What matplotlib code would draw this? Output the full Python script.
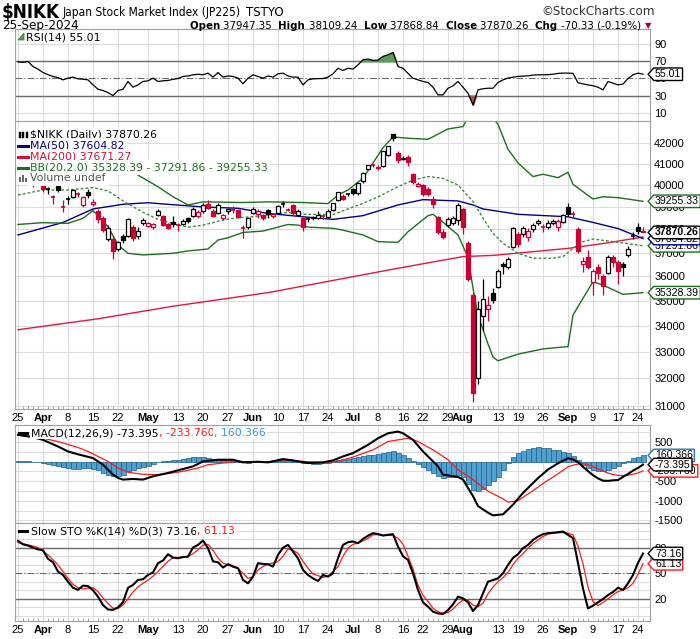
import numpy as np
import pandas as pd
import matplotlib
matplotlib.use("Agg")
import matplotlib.pyplot as plt
import matplotlib.font_manager as fm
from matplotlib.patches import Rectangle, Polygon
from matplotlib.lines import Line2D
from matplotlib.path import Path
from matplotlib.transforms import blended_transform_factory

# ---------------- data ----------------
holidays = ["2024-04-29", "2024-05-03", "2024-05-06", "2024-07-15",
            "2024-08-12", "2024-09-16", "2024-09-23"]
dates = [d for d in pd.bdate_range("2024-03-25", "2024-09-25")
         if d.strftime("%Y-%m-%d") not in holidays]

prev_close0 = 40888.17
opens = [40800, 40350, 40500, 40150, 40400, 40080, 39850, 39460, 39950, 39000,
         39300, 39450, 39600, 39100, 39700, 39150, 38800, 38500, 37600, 37600,
         37150, 37700, 37700, 38100, 37700, 38300, 38150, 38100, 38650, 38600,
         38250, 38350, 38180, 38250, 38490, 38600, 38600, 38800, 39150, 38800,
         38750, 38500, 38800, 38850, 38850, 38080, 38100, 38750, 38700, 38650,
         38850, 38600, 38750, 39100, 38850, 39100, 38650, 38500, 38450, 38500,
         38500, 38580, 38550, 38850, 39300, 39500, 39600, 39800, 39650, 40200,
         40750, 40920, 40850, 40900, 41400, 42400, 41500, 41200, 41300, 40500,
         39950, 40000, 39800, 39350, 38550, 37900, 38200, 38300, 38400, 38900,
         37400, 35250, 32000, 34400, 34650, 35300, 35540, 36505, 36380, 37250,
         37800, 37800, 37650, 38000, 38280, 38120, 38100, 38280, 38100, 38350,
         39000, 38700, 38000, 36500, 36800, 35780, 36400, 36000, 36150, 36800,
         36600, 36500, 36900, 37700, 38100, 37947.35]
highs = [40837, 40500, 40980, 40300, 40500, 40150, 39900, 39520, 40030, 39300,
         39500, 39800, 39700, 39500, 39800, 39350, 38900, 38600, 38200, 37700,
         37500, 37800, 38500, 38200, 38100, 38500, 38350, 38300, 38900, 38650,
         38300, 38600, 38300, 38450, 38550, 39000, 38850, 39200, 39300, 38900,
         39200, 38700, 38950, 39050, 38900, 38200, 38550, 39000, 38900, 38700,
         38900, 38750, 39100, 39250, 38950, 39150, 38900, 38550, 38550, 38600,
         38800, 38650, 38900, 39200, 39700, 39600, 39650, 39850, 40100, 40600,
         40950, 40980, 40950, 41600, 41850, 42426, 41600, 41350, 41400, 40550,
         40150, 40050, 39900, 39500, 38600, 38000, 38550, 38600, 39200, 38950,
         37500, 35300, 35000, 35880, 35200, 35500, 36300, 36600, 36800, 38100,
         37900, 38150, 38050, 38300, 38450, 38250, 38400, 38450, 38450, 38700,
         39200, 38800, 38100, 36800, 37100, 36300, 36500, 36100, 36900, 36900,
         36700, 36600, 37300, 37900, 38300, 38109.24]
lows = [40367, 40100, 40400, 39900, 40150, 39700, 39600, 39150, 39700, 38774,
        39150, 39400, 39450, 39000, 39400, 39050, 38300, 37900, 37500, 36733,
        37050, 37400, 37650, 37500, 37600, 38200, 38100, 38000, 38600, 38150,
        38000, 38100, 37950, 38200, 38300, 38550, 38500, 38750, 38900, 38550,
        38700, 38400, 38700, 38750, 38500, 37617, 38000, 38700, 38500, 38400,
        38500, 38500, 38700, 39000, 38800, 38650, 38600, 37950, 38350, 38400,
        38450, 38450, 38500, 38800, 39250, 39300, 39500, 39550, 39550, 40100,
        40700, 40850, 40700, 40850, 41350, 42100, 41050, 41150, 40900, 40050,
        39900, 39500, 39500, 38950, 37800, 37600, 38100, 38200, 38200, 37800,
        35800, 31156, 31800, 33800, 34200, 34900, 35500, 36100, 36300, 37200,
        37250, 37650, 37500, 37900, 38200, 37900, 38000, 38200, 37950, 38300,
        38600, 38500, 37000, 36200, 36300, 35250, 35900, 35250, 36100, 36400,
        35700, 36000, 36800, 37600, 37800, 37868.84]
closes = [40414, 40398, 40762, 40168, 40369, 39803, 39838, 39451, 39773, 38992,
          39347, 39773, 39581, 39442, 39523, 39232, 38471, 37961, 38079, 37068,
          37438, 37552, 38460, 37628, 37934, 38405, 38274, 38236, 38835, 38202,
          38073, 38229, 38179, 38356, 38385, 38920, 38787, 39069, 38946, 38617,
          39103, 38646, 38900, 38855, 38556, 38054, 38487, 38923, 38837, 38490,
          38703, 38683, 39038, 39134, 38876, 38720, 38814, 38102, 38482, 38570,
          38633, 38596, 38804, 39173, 39667, 39341, 39583, 39631, 40074, 40580,
          40913, 40912, 40780, 41580, 41832, 42224, 41191, 41275, 41098, 40126,
          40063, 39599, 39594, 39155, 37870, 37667, 38469, 38526, 39102, 38126,
          35910, 31458, 34675, 35090, 34831, 35025, 36233, 36442, 36726, 38063,
          37389, 38062, 37951, 38211, 38364, 38110, 38288, 38371, 38362, 38648,
          38700, 38686, 37047, 36657, 36391, 36216, 36159, 35620, 36833, 36582,
          36203, 36380, 37155, 37724, 37940, 37870.26]

# moving averages / bands sampled from the chart (trading-day index, value)
ma50_days = [0, 9, 15, 21, 26, 31, 37, 44, 50, 57, 63, 69, 76, 81, 88, 91, 93, 100, 110, 115, 120, 125]
ma50_vals = [37760, 38310, 38910, 39120, 39190, 39100, 39000, 38940, 38710, 38560, 38445,
             38610, 39090, 39330, 39270, 39090, 38910, 38670, 38560, 38310, 38040, 37604.82]
ma200_days = [0, 16, 31, 50, 63, 75, 89, 95, 110, 118, 125]
ma200_vals = [33850, 34280, 34780, 35330, 35830, 36300, 36830, 36880, 37180, 37420, 37671.27]
bbu_days = [0, 5, 10, 15, 18, 24, 28, 31, 34, 37, 45, 50, 57, 62, 64, 66, 69, 71, 73, 75, 78,
            82, 86, 89, 91, 93, 96, 98, 100, 103, 105, 108, 110, 111, 115, 117, 120, 125]
bbu_vals = [40860, 41240, 41270, 40920, 41300, 40460, 39920, 39460, 39090, 39230, 39200,
            39230, 39200, 39150, 39540, 39770, 40310, 41030, 41760, 42280, 42215, 42165,
            42670, 42790, 43700, 43800, 42900, 41680, 41030, 40390, 40500, 40340, 40590,
            40030, 39360, 39460, 39420, 39255.33]
bbm_days = [0, 5, 10, 15, 18, 21, 25, 28, 31, 34, 37, 41, 44, 47, 50, 54, 57, 63, 66, 69, 72,
            76, 79, 82, 85, 88, 91, 93, 95, 97, 100, 103, 107, 109, 111, 113, 115, 120, 125]
bbm_vals = [39540, 39770, 39770, 39880, 39730, 39270, 38760, 38450, 38250, 38100, 38190,
            38415, 38520, 38565, 38640, 38760, 38670, 38660, 38910, 39160, 39460, 39920,
            40230, 40390, 40310, 40000, 39240, 38500, 37830, 37400, 36970, 36760, 36760,
            36830, 37180, 37470, 37585, 37440, 37291.86]
bbl_days = [0, 5, 10, 13, 15, 18, 20, 22, 25, 31, 34, 38, 40, 42, 45, 49, 54, 56, 58, 63, 65,
            69, 72, 76, 78, 82, 83, 85, 88, 90, 91, 92, 94, 95, 96, 100, 105, 110, 111, 113,
            115, 117, 121, 125]
bbl_vals = [38220, 38300, 38270, 38490, 38840, 38125, 37330, 36970, 36900, 36970, 37070,
            37155, 37540, 37640, 37870, 37930, 38220, 38190, 38105, 38050, 37970, 37760,
            37470, 37440, 37900, 38610, 38670, 38320, 37760, 36800, 35510, 34430, 33300,
            32800, 32660, 32910, 33110, 33200, 34430, 35100, 35780, 35640, 35260, 35328.39]

rsi = [69.5, 68.8, 70, 64, 61, 57, 54.5, 52.4, 51, 48.4,
       50.4, 51.6, 49.6, 49.2, 48.4, 42.5, 37.5, 35.9, 33.5, 30,
       35.9, 37.5, 46.5, 39.8, 42.5, 46.5, 47.3, 50.4, 46.5, 47.3,
       47.7, 49, 50, 52.4, 53, 54.3, 55, 54.3, 56.3, 51.6,
       57, 51.6, 53, 52.4, 50.4, 43.7, 50.4, 54.3, 52.4, 50.4,
       53, 51.6, 55.5, 56.3, 53, 51.6, 51.6, 42.5, 48.4, 49.6,
       49.8, 50, 51.6, 55.5, 62, 59.4, 62, 61, 66, 72,
       72.7, 71.2, 71.5, 75.9, 77.8, 80.6, 64, 62, 56, 50.4,
       48.4, 46.5, 45.3, 39.8, 30.8, 30.8, 38.6, 41.4, 46.5, 39.8,
       32.7, 19, 36.7, 38, 38.6, 38.6, 45.3, 48.4, 50.5, 51.6,
       52.4, 52.8, 53.1, 54, 54.3, 54.3, 54.5, 55, 56, 56.3,
       56.3, 56, 45, 43.7, 42.5, 41.5, 39.8, 36.7, 46.5, 44.5,
       42.5, 43.5, 50, 54.3, 56.3, 55.01]

macd_days = [0, 3, 5, 8, 10, 12, 15, 17, 19, 20, 21, 23, 25, 27, 30, 32, 35, 37, 40, 43, 45,
             48, 50, 53, 55, 58, 61, 63, 65, 67, 70, 72, 74, 76, 77, 79, 81, 84, 85, 88, 89,
             91, 92, 94, 95, 97, 99, 101, 104, 106, 108, 110, 111, 112, 113, 114, 115, 116,
             117, 118, 119, 120, 121, 122, 123, 124, 125]
macd_vals = [690, 630, 560, 390, 263, 190, 93, -76, -331, -416, -458, -441, -458, -373, -288,
             -220, -119, 8, 51, 51, -17, 0, -17, 68, 34, -34, -17, 34, 136, 220, 432, 602,
             729, 772, 729, 560, 263, -119, -331, -390, -458, -882, -1136, -1306, -1374,
             -1348, -1100, -800, -420, -200, -40, 90, 60, -10, -130, -241, -345, -426,
             -486, -490, -476, -469, -389, -315, -227, -160, -73.395]
sig_days = [0, 5, 8, 12, 14, 18, 20, 22, 25, 28, 30, 33, 36, 38, 41, 44, 47, 50, 54, 57, 61,
            64, 67, 71, 74, 78, 80, 83, 86, 88, 91, 94, 97, 98, 100, 103, 105, 108, 110, 111,
            112, 113, 114, 115, 116, 117, 118, 119, 120, 121, 122, 123, 124, 125]
sig_vals = [680, 602, 517, 365, 263, 8, -161, -271, -322, -331, -305, -246, -161, -76, -34,
            8, 0, 0, 25, 8, -17, 8, 119, 305, 517, 602, 517, 305, 51, -204, -458, -755,
            -950, -1035, -1000, -740, -560, -310, -130, -90, -60, -50, -80, -125, -180, -240,
            -290, -326, -350, -355, -345, -320, -290, -233.76]
hist = [17, 25, 17, 0, -17, -34, -59, -85, -110, -136,
        -161, -178, -178, -170, -170, -178, -220, -280, -330, -373,
        -360, -330, -250, -220, -170, -136, -100, -50, -10, 10,
        25, 40, 50, 68, 85, 110, 119, 110, 93, 76,
        68, 51, 42, 25, 8, -17, -25, -17, -8, 0,
        8, 17, 34, 51, 42, 25, 8, -25, -42, -51,
        -51, -42, -25, 8, 42, 59, 76, 93, 110, 136,
        161, 178, 195, 220, 246, 263, 220, 170, 93, 17,
        -51, -136, -200, -280, -373, -415, -400, -390, -350, -400,
        -560, -712, -755, -690, -600, -500, -400, -220, -40, 120,
        220, 280, 322, 360, 365, 355, 340, 310, 288, 250,
        220, 150, 50, -80, -161, -220, -246, -246, -200, -150,
        -119, -34, 30, 93, 130, 160.366]

sto_k = [88, 84, 82.5, 80, 78, 77, 67, 63, 52, 48,
         40, 33, 30.5, 35.5, 35, 30, 22.5, 12.7, 7.5, 7,
         10, 16, 33, 36.3, 42.2, 43, 48, 51, 61.8, 65,
         72.4, 68.4, 67.6, 69, 69.6, 80.2, 83.3, 88.4, 79.4, 64,
         62.9, 56.7, 60.6, 57.8, 55.9, 42.2, 38.2, 46.1, 61.8, 61,
         60.6, 57.8, 71.6, 80, 83.3, 75.5, 67.6, 53.9, 48, 44,
         41, 48, 46.1, 50, 67.6, 83.3, 86.5, 87.3, 85.3, 90.4,
         94, 97.1, 95.9, 94.3, 95.1, 95.9, 81.4, 70, 65.7, 50,
         30.4, 15.9, 10.8, 5, 2.9, 2.2, 6.9, 13.5, 22.5, 20.6,
         15.9, 5.7, 12.7, 26.5, 40.2, 42, 44.1, 50, 59.8, 68,
         72.4, 79.4, 83.3, 89.2, 93, 95.9, 97.1, 97.5, 98.2, 99,
         95.1, 91.2, 62, 32, 8.8, 12, 15.9, 19.8, 24.5, 28,
         33.1, 30.4, 38.2, 48, 62.2, 73.16]
sto_d = [86, 84.5, 83.3, 82, 80, 76, 71.6, 66, 59.8, 52,
         44, 37, 33, 31.6, 32.5, 33, 28.4, 21, 14.7, 9,
         8.5, 12.7, 20, 28, 34, 38.2, 42, 46.5, 52, 58,
         64, 68.4, 68.6, 69, 69.6, 73, 77.5, 83, 84, 77,
         68, 61.8, 60, 59, 56, 50, 44, 46, 53.9, 58,
         60.6, 62, 63.7, 70, 78.5, 77, 73.5, 64, 56, 49,
         47.3, 45, 47, 52, 57.8, 70, 79.4, 84, 85.3, 88,
         91, 95, 95.5, 94.3, 94.5, 94.3, 91, 84, 70, 55,
         36, 24, 17, 9, 5, 3, 4, 8, 14, 18.6,
         18, 12.7, 10.8, 15, 26, 34, 40, 45, 51, 60,
         67.6, 73, 79.4, 85, 89.2, 93, 95.9, 97, 97.5, 97.8,
         97.1, 95, 82, 61, 34, 17, 12, 15.9, 20, 24.5,
         28.5, 30.4, 33, 38.2, 49, 61.13]

tick_dates = ["2024-03-25", "2024-04-01", "2024-04-08", "2024-04-15", "2024-04-22",
              "2024-05-01", "2024-05-13", "2024-05-20", "2024-05-27", "2024-06-03",
              "2024-06-10", "2024-06-17", "2024-06-24", "2024-07-01", "2024-07-08",
              "2024-07-16", "2024-07-22", "2024-07-29", "2024-08-01", "2024-08-13",
              "2024-08-19", "2024-08-26", "2024-09-02", "2024-09-09", "2024-09-17",
              "2024-09-24"]
tick_labels = ["25", "Apr", "8", "15", "22", "May", "13", "20", "27", "Jun", "10", "17",
               "24", "Jul", "8", "16", "22", "29", "Aug", "13", "19", "26", "Sep", "9",
               "17", "24"]
price_ticks = [31000, 32000, 33000, 34000, 35000, 36000, 37000, 38000, 39000, 40000,
               41000, 42000]

# ---------------- figure ----------------
W, H = 700, 639
fig = plt.figure(figsize=(7.0, 6.39), dpi=100)
fig.patch.set_facecolor("white")

RED = "#cc0033"
GRID = "#dcdcdc"
SPINE = "#a0a0a0"
GREEN = "#1e6e1e"
NAVY = "#000080"
MA2C = "#e0183c"
BLUE_T = "#3399cc"
TICKFONT = ["Liberation Sans", "DejaVu Sans"]
LEGFONT = ["DejaVu Sans"]

_fonts = fm.fontManager.ttflist
if any(f.name == "Liberation Sans Narrow" for f in _fonts):
    HEADF, HEADSTRETCH = ["Liberation Sans Narrow", "DejaVu Sans"], "normal"
elif any(f.name == "DejaVu Sans" and str(f.stretch) in ("condensed", "semi-condensed") for f in _fonts):
    HEADF, HEADSTRETCH = ["DejaVu Sans"], "condensed"
else:
    HEADF, HEADSTRETCH = ["Liberation Sans", "DejaVu Sans"], "normal"


def rect(x0, y0, x1, y1):
    return [x0 / W, 1 - y1 / H, (x1 - x0) / W, (y1 - y0) / H]


ax_rsi = fig.add_axes(rect(15, 29, 650, 121))
ax_main = fig.add_axes(rect(15, 121, 650, 409))
ax_macd = fig.add_axes(rect(15, 425, 650, 523))
ax_sto = fig.add_axes(rect(15, 523, 650, 621))
axes = [ax_rsi, ax_main, ax_macd, ax_sto]

n = len(dates)
x = np.arange(n)
date_str = [d.strftime("%Y-%m-%d") for d in dates]
tick_pos = [date_str.index(d) for d in tick_dates]

for ax in axes:
    ax.set_xlim(-0.6, n + 0.4)
    ax.set_xticks(tick_pos)
    ax.set_xticklabels([])
    ax.tick_params(axis="x", length=0)
    ax.yaxis.tick_right()
    ax.tick_params(axis="y", length=0, pad=3, labelsize=8)
    for sp in ax.spines.values():
        sp.set_color(SPINE)
        sp.set_linewidth(0.8)
    for p in tick_pos:
        ax.axvline(p, color=GRID, lw=0.8, zorder=0)

for ax in (ax_main, ax_sto):
    ax.set_xticklabels(tick_labels)
    ax.tick_params(axis="x", pad=3, labelsize=8)
    for lab, txt in zip(ax.get_xticklabels(), tick_labels):
        lab.set_family(TICKFONT)
        if txt.isalpha():
            lab.set_fontweight("bold")
    ax.set_xticks(x, minor=True)
    ax.tick_params(axis="x", which="minor", length=2, direction="in", color="#999999")

# ---------------- RSI ----------------
rsi_a = np.array(rsi)
ax_rsi.set_ylim(0.2, 108)
for v in (10, 90):
    ax_rsi.axhline(v, color=GRID, lw=0.8, zorder=0)
ax_rsi.axhline(70, color="#6a6a6a", lw=1.0, zorder=1)
ax_rsi.axhline(30, color="#6a6a6a", lw=1.0, zorder=1)
ax_rsi.axhline(50, color="#6a6a6a", lw=0.8, ls=(0, (6, 2, 1, 2)), zorder=1)
ax_rsi.fill_between(x, rsi_a, 70, where=rsi_a > 70, interpolate=True, color="#5e9a5e", zorder=2)
ax_rsi.fill_between(x, rsi_a, 30, where=rsi_a < 30, interpolate=True, color="#a55252", zorder=2)
ax_rsi.plot(x, rsi_a, color="black", lw=0.9, zorder=3)
ax_rsi.set_yticks([10, 30, 50, 70, 90])
ax_rsi.set_yticklabels(["10", "30", "50", "70", "90"])

# ---------------- main ----------------
ax_main.set_yscale("log")
ax_main.set_ylim(30893, 43064)
ax_main.set_yticks(price_ticks)
ax_main.set_yticklabels([str(v) for v in price_ticks])
ax_main.yaxis.set_minor_locator(matplotlib.ticker.NullLocator())
ax_main.tick_params(axis="y", which="both", length=0)
for v in price_ticks:
    ax_main.axhline(v, color=GRID, lw=0.8, zorder=0)

ax_main.plot(ma200_days, ma200_vals, color=MA2C, lw=1.0, zorder=2)
ax_main.plot(ma50_days, ma50_vals, color=NAVY, lw=1.0, zorder=2)
ax_main.plot(bbu_days, bbu_vals, color=GREEN, lw=1.0, zorder=2)
ax_main.plot(bbl_days, bbl_vals, color=GREEN, lw=1.0, zorder=2)
ax_main.plot(bbm_days, bbm_vals, color="#3c8c3c", lw=1.0, ls=(0, (2, 1.5)), zorder=2)

prev = [prev_close0] + closes[:-1]
bw = 0.84
for i in range(n):
    o, h, l, c = opens[i], highs[i], lows[i], closes[i]
    col = "black" if c >= prev[i] else RED
    ax_main.vlines(i, l, h, color=col, lw=0.9, zorder=3)
    lo, hi = min(o, c), max(o, c)
    if hi / lo < 1.0012:
        ax_main.hlines(c, i - bw / 2, i + bw / 2, color=col, lw=1.2, zorder=4)
    else:
        fc = col if c < o else "white"
        ax_main.add_patch(Rectangle((i - bw / 2, lo), bw, hi - lo, facecolor=fc,
                                    edgecolor=col, lw=0.9, zorder=4))

# ---------------- MACD ----------------
ax_macd.set_ylim(-1570, 941)
for v in (750, 500, 250, 0, -250, -500, -750, -1000, -1250, -1500):
    ax_macd.axhline(v, color=GRID, lw=0.8, zorder=0)
ax_macd.bar(x, hist, width=1.0, color="#4f9fcf", edgecolor="#1f5f8a", lw=0.5, zorder=2)
ax_macd.plot(sig_days, sig_vals, color="#ff1a1a", lw=0.9, zorder=3)
ax_macd.plot(macd_days, macd_vals, color="black", lw=1.5, zorder=4)
ax_macd.set_yticks([500, -500, -1000, -1500])
ax_macd.set_yticklabels(["500", "-500", "-1000", "-1500"])

# ---------------- STO ----------------
ax_sto.set_ylim(-6, 109)
for v in range(0, 101, 10):
    ax_sto.axhline(v, color=GRID, lw=0.8, zorder=0)
ax_sto.axhline(80, color="#6a6a6a", lw=1.0, zorder=1)
ax_sto.axhline(20, color="#6a6a6a", lw=1.0, zorder=1)
ax_sto.axhline(50, color="#6a6a6a", lw=0.8, ls=(0, (6, 2, 1, 2)), zorder=1)
ax_sto.plot(x, sto_d, color="#ff1a1a", lw=0.9, zorder=3)
ax_sto.plot(x, sto_k, color="black", lw=1.5, zorder=4)
ax_sto.set_yticks([20, 50, 80])
ax_sto.set_yticklabels(["20", "50", "80"])

for ax in axes:
    for lab in ax.get_yticklabels():
        lab.set_family(TICKFONT)
        lab.set_fontsize(8)


# ---------------- texts ----------------
def fx(px):
    return px / W


def fy(py):
    return 1 - py / H


def tag_box(x0, y0, width, height, mutation_size):
    pad = 0.12 * mutation_size
    x0 -= pad
    y0 -= pad
    width += 2 * pad
    height += 2 * pad
    tip = height * 0.45
    verts = [(x0, y0), (x0 + width, y0), (x0 + width, y0 + height), (x0, y0 + height),
             (x0 - tip, y0 + height / 2), (x0, y0), (x0, y0)]
    codes = [Path.MOVETO] + [Path.LINETO] * 5 + [Path.CLOSEPOLY]
    return Path(verts, codes)


def value_tag(ax, val, txt, ec, bold=False, z=10):
    tr = blended_transform_factory(ax.transAxes, ax.transData)
    ax.text(1.0 + 5 / 635, val, txt, transform=tr, ha="left", va="center", fontsize=7.6,
            fontweight="bold" if bold else "normal", color="black", family=TICKFONT,
            bbox=dict(boxstyle=tag_box, fc="white", ec=ec, lw=1.0), clip_on=False, zorder=z)


value_tag(ax_rsi, 55.01, "55.01", "black")
value_tag(ax_main, 39255.33, "39255.33", GREEN)
value_tag(ax_main, 35328.39, "35328.39", GREEN)
value_tag(ax_main, 37291.86, "37291.86", GREEN, z=10)
value_tag(ax_main, 37604.82, "37604.82", NAVY, z=11)
value_tag(ax_main, 37870.26, "37870.26", "black", bold=True, z=12)
value_tag(ax_macd, 160.366, "160.366", "#2a7ab0", z=10)
value_tag(ax_macd, -233.760, "-233.760", "#ff1a1a", z=11)
value_tag(ax_macd, -73.395, "-73.395", "black", z=12)
value_tag(ax_sto, 73.16, "73.16", "black", z=11)
value_tag(ax_sto, 61.13, "61.13", "#ff1a1a", z=10)

fig.canvas.draw()
renderer = fig.canvas.get_renderer()


def text_run(pieces, x_px, y_px, align="left", family=None, size=8, va="baseline",
             bbox=False, stretch="normal", target_w=None):
    objs = []
    for s, wt, col in pieces:
        kw = dict(fontsize=size, fontweight=wt, color=col, va=va, family=family or LEGFONT,
                  fontstretch=stretch)
        if bbox:
            kw["bbox"] = dict(fc="white", ec="none", pad=0.6)
        objs.append(fig.text(0, fy(y_px), s, **kw))
    widths = [t.get_window_extent(renderer).width for t in objs]
    total = sum(widths)
    if target_w is not None and total > target_w:
        k = target_w / total
        for t in objs:
            t.set_fontsize(size * k)
        widths = [t.get_window_extent(renderer).width for t in objs]
        total = sum(widths)
    xx = x_px - total if align == "right" else x_px
    for t, w in zip(objs, widths):
        t.set_x(fx(xx))
        xx += w
    return xx


fig.text(fx(2), fy(18), "$NIKK", fontsize=13.5, fontweight="bold", family=HEADF,
         fontstretch=HEADSTRETCH, va="baseline")
end_x = text_run([("Japan Stock Market Index (JP225)", "normal", "black")], 63, 16,
                 family=HEADF, size=9, stretch=HEADSTRETCH, target_w=178)
fig.text(fx(end_x + 5), fy(16), "TSTYO", fontsize=8.5, family=["DejaVu Sans"], va="baseline")
fig.text(fx(655), fy(15), "\u00a9StockCharts.com", fontsize=9.5, family=HEADF,
         fontstretch=HEADSTRETCH, va="baseline", ha="right", color="#333333")
fig.text(fx(2), fy(29), "25-Sep-2024", fontsize=9.5, family=HEADF, fontstretch=HEADSTRETCH,
         va="baseline")
text_run([("Open ", "bold", "black"), ("37947.35  ", "normal", "black"),
          ("High ", "bold", "black"), ("38109.24  ", "normal", "black"),
          ("Low ", "bold", "black"), ("37868.84  ", "normal", "black"),
          ("Close ", "bold", "black"), ("37870.26  ", "normal", "black"),
          ("Chg ", "bold", "black"), ("-70.33 (-0.19%)", "normal", "black")],
         641, 29, align="right", family=HEADF, size=9, stretch=HEADSTRETCH, target_w=455)
fig.text(fx(648), fy(28), "\u25bc", fontsize=6, color="#b00030", va="baseline", ha="center")

# RSI legend
fig.add_artist(Polygon([[fx(18), fy(40)], [fx(24), fy(33)], [fx(24), fy(40)]], closed=True,
                       fc="#5e9a5e", ec="#3a6a3a", lw=0.5, transform=fig.transFigure))
fig.text(fx(26), fy(37), "RSI(14) 55.01", fontsize=7.8, family=LEGFONT, va="center",
         bbox=dict(fc="white", ec="none", pad=0.5))

# main legend (white backing behind the icon column)
fig.add_artist(Rectangle((fx(16), fy(184)), 15 / W, 55 / H, fc="white", ec="none",
                         transform=fig.transFigure, zorder=4.5))
rows = [("$NIKK (Daily) 37870.26", "black"), ("MA(50) 37604.82", NAVY),
        ("MA(200) 37671.27", "#d0103a"), ("BB(20,2.0) 35328.39 - 37291.86 - 39255.33", GREEN),
        ("Volume undef", "#555555")]
row_y = [134.5, 145.5, 156.5, 167.5, 178.5]
for (s, col), yy in zip(rows, row_y):
    fig.text(fx(30), fy(yy), s, fontsize=7.8, family=LEGFONT, color=col, va="center",
             bbox=dict(fc="white", ec="none", pad=1.6), zorder=5)
for yy, col in zip(row_y[1:4], [NAVY, "#d0103a", GREEN]):
    fig.add_artist(Line2D([fx(18), fx(28)], [fy(yy), fy(yy)], color=col, lw=2.2,
                          transform=fig.transFigure, zorder=6))
for dx in [19, 22.5, 26]:
    fig.add_artist(Rectangle((fx(dx), fy(138)), 2 / W, 6 / H, fc="black", ec="black", lw=0.3,
                             transform=fig.transFigure, zorder=6))
for dx, hh in [(19, 5), (22, 7), (25, 4)]:
    fig.add_artist(Rectangle((fx(dx), fy(182)), 2 / W, hh / H, fc="#666666", ec="none",
                             transform=fig.transFigure, zorder=6))

# MACD legend
fig.add_artist(Line2D([fx(19), fx(27)], [fy(433), fy(433)], color="black", lw=2.2,
                      transform=fig.transFigure, zorder=6))
text_run([("MACD(12,26,9) -73.395", "normal", "black"), (", -233.760", "normal", "#ff1a1a"),
          (", 160.366", "normal", BLUE_T)], 31, 433, family=LEGFONT, size=7.8, va="center",
         bbox=True)

# STO legend
fig.add_artist(Line2D([fx(19), fx(27)], [fy(531), fy(531)], color="black", lw=2.2,
                      transform=fig.transFigure, zorder=6))
text_run([("Slow STO %K(14) %D(3) 73.16", "normal", "black"), (", 61.13", "normal", "#ff1a1a")],
         31, 531, family=LEGFONT, size=7.8, va="center", bbox=True)

fig.savefig("out.png", dpi=100, facecolor="white")
